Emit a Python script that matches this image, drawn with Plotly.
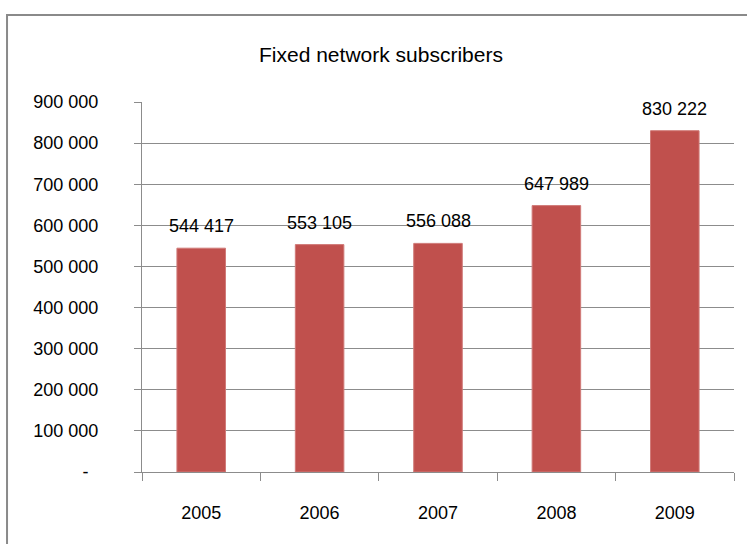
import plotly.graph_objects as go

years = ["2005", "2006", "2007", "2008", "2009"]
subscribers = [544417, 553105, 556088, 647989, 830222]
y_ticks = [0, 100000, 200000, 300000, 400000, 500000, 600000, 700000, 800000, 900000]


def fmt(v):
    # accounting-style zero: a dash set in from the right edge
    return "-\u00a0\u00a0" if v == 0 else f"{v:,}".replace(",", " ")


FONT = "Liberation Sans, Arial, sans-serif"
BAR = "#C0504D"
GRID = "#8C8C8C"

fig = go.Figure(
    go.Bar(
        x=years,
        y=subscribers,
        marker=dict(color=BAR, line=dict(color="#D07A78", width=1)),
        width=0.41,
        hoverinfo="skip",
    )
)

# value labels above each bar (category index positions)
for i, v in enumerate(subscribers):
    fig.add_annotation(
        x=i, y=v, text=fmt(v), showarrow=False,
        yanchor="bottom", yshift=10,
        font=dict(family=FONT, size=18, color="#000000"),
    )

# outer chart frame
fig.add_shape(
    type="rect", xref="paper", yref="paper",
    x0=-0.228, x1=1.2, y0=-0.5, y1=1.235,
    line=dict(color="#8A8A8A", width=2), fillcolor="rgba(0,0,0,0)",
    layer="below",
)

fig.update_layout(
    width=747, height=544,
    margin=dict(l=142, r=13, t=102, b=72),
    paper_bgcolor="white", plot_bgcolor="white",
    showlegend=False,
    title=dict(
        text="Fixed network subscribers", x=0.51, xanchor="center",
        y=1 - 55 / 544, yanchor="middle", yref="container",
        font=dict(family=FONT, size=21, color="#000000"),
    ),
    xaxis=dict(
        type="category",
        range=[-0.5, 4.5],
        showline=True, linecolor=GRID, linewidth=1,
        ticks="outside", tickson="boundaries", ticklen=8, tickcolor=GRID,
        showgrid=False, tickangle=0,
        tickfont=dict(family=FONT, size=18, color="#000000"),
        ticklabelstandoff=24,
    ),
    yaxis=dict(
        range=[0, 900000],
        tickvals=y_ticks,
        ticktext=[fmt(v) for v in y_ticks],
        showgrid=True, gridcolor=GRID, gridwidth=1,
        showline=True, linecolor=GRID, linewidth=1,
        ticks="outside", ticklen=7, tickcolor=GRID,
        zeroline=False,
        tickfont=dict(family=FONT, size=18, color="#000000"),
        ticklabelstandoff=32,
    ),
)

fig.write_html("out.html")
